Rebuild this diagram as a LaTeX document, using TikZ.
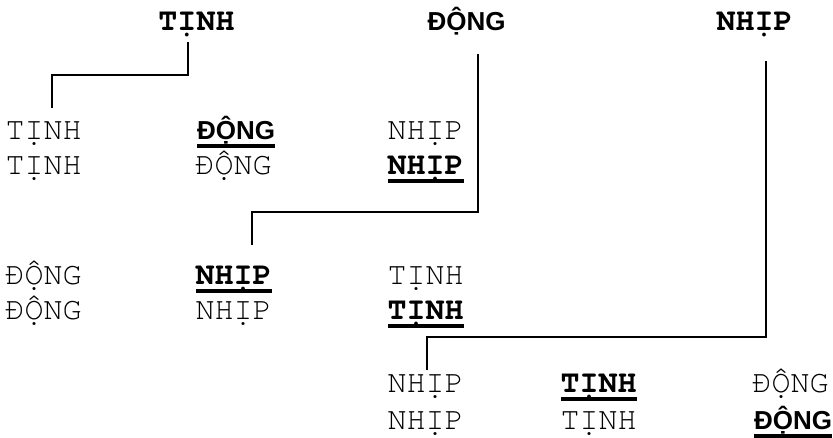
\documentclass[tikz,border=0pt]{standalone}
\usepackage{fontspec}
\newfontfamily\monof{TeX Gyre Cursor}
\newfontfamily\sansf{Liberation Sans}
\tikzset{
  word/.style={anchor=base west, inner sep=0pt, outer sep=0pt,
    font=\monof\fontsize{31.67}{36}\selectfont},
  key/.style={word, font=\monof\bfseries\fontsize{31.67}{36}\selectfont},
  keysans/.style={word, font=\sansf\bfseries\fontsize{26}{30}\selectfont},
  head/.style={anchor=base, inner sep=0pt, outer sep=0pt,
    font=\monof\bfseries\fontsize{31.67}{36}\selectfont},
  headsans/.style={head, font=\sansf\bfseries\fontsize{26}{30}\selectfont},
  link/.style={draw=black, line width=1.6pt},
  uline/.style={draw=black, line width=3.2pt}
}
\newcommand{\ul}[1]{\draw[uline] ([yshift=-7pt]#1.base west) -- ([yshift=-7pt]#1.base east);}
\begin{document}
\begin{tikzpicture}[x=1pt, y=-1pt]
\useasboundingbox (0,0) rectangle (833,437);

% column headings
\node[head]     (hT) at (196.5,30) {TỊNH};
\node[headsans] (hD) at (466.5,30) {ĐỘNG};
\node[head]     (hN) at (754.5,30) {NHỊP};

% first group
\node[word]    (a1) at (5.5,139)   {TỊNH};
\node[keysans] (a2) at (197,139)   {ĐỘNG};
\node[word]    (a3) at (387.5,139) {NHỊP};
\node[word]    (b1) at (5.5,174)   {TỊNH};
\node[word]    (b2) at (195.5,174) {ĐỘNG};
\node[key]     (b3) at (387.5,174) {NHỊP};

% second group
\node[word]    (c1) at (5.5,284)   {ĐỘNG};
\node[key]     (c2) at (195.5,284) {NHỊP};
\node[word]    (c3) at (387.5,284) {TỊNH};
\node[word]    (d1) at (5.5,319)   {ĐỘNG};
\node[word]    (d2) at (195.5,319) {NHỊP};
\node[key]     (d3) at (387.5,319) {TỊNH};

% third group
\node[word]    (e1) at (387.5,392) {NHỊP};
\node[key]     (e2) at (560.5,392) {TỊNH};
\node[word]    (e3) at (752.5,392) {ĐỘNG};
\node[word]    (f1) at (387.5,429) {NHỊP};
\node[word]    (f2) at (560.5,429) {TỊNH};
\node[keysans] (f3) at (754,429)   {ĐỘNG};

% underlines of the stressed words
\ul{a2} \ul{b3} \ul{c2} \ul{d3} \ul{e2} \ul{f3}

% bend points of the connectors
\coordinate (p1) at (188,42);  \coordinate (q1) at (188,75);
\coordinate (r1) at (52,75);   \coordinate (s1) at (52,108);
\coordinate (p2) at (478,54);  \coordinate (q2) at (478,212);
\coordinate (r2) at (252,212); \coordinate (s2) at (252,245);
\coordinate (p3) at (766,61);  \coordinate (q3) at (766,337);
\coordinate (r3) at (427,337); \coordinate (s3) at (427,370);

\draw[link] (p1) -- (q1) -- (r1) -- (s1);
\draw[link] (p2) -- (q2) -- (r2) -- (s2);
\draw[link] (p3) -- (q3) -- (r3) -- (s3);
\end{tikzpicture}
\end{document}
